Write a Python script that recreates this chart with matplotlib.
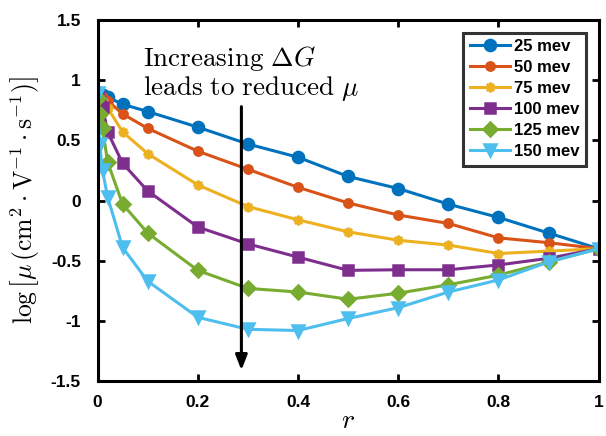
import matplotlib
matplotlib.use("Agg")
import matplotlib.pyplot as plt

plt.rcParams['mathtext.fontset'] = 'cm'
plt.rcParams['axes.unicode_minus'] = False

# r positions
r = [0, 0.004, 0.01, 0.02, 0.05, 0.1, 0.2, 0.3, 0.4, 0.5, 0.6, 0.7, 0.8, 0.9, 1.0]

mu_25 = [0.89, 0.89, 0.88, 0.86, 0.80, 0.74, 0.61, 0.47, 0.36, 0.20, 0.10, -0.03, -0.14, -0.27, -0.40]
mu_50 = [0.88, 0.87, 0.86, 0.83, 0.72, 0.60, 0.41, 0.26, 0.11, -0.02, -0.12, -0.19, -0.31, -0.35, -0.40]
mu_75 = [0.87, 0.85, 0.83, 0.77, 0.57, 0.39, 0.13, -0.05, -0.16, -0.26, -0.33, -0.37, -0.44, -0.42, -0.40]
mu_100 = [0.86, 0.82, 0.78, 0.57, 0.31, 0.08, -0.22, -0.36, -0.47, -0.58, -0.575, -0.575, -0.535, -0.48, -0.40]
mu_125 = [0.85, 0.72, 0.60, 0.32, -0.03, -0.27, -0.58, -0.73, -0.76, -0.82, -0.77, -0.70, -0.62, -0.51, -0.40]
mu_150 = [0.89, 0.47, 0.25, 0.03, -0.39, -0.67, -0.97, -1.07, -1.08, -0.98, -0.89, -0.76, -0.66, -0.51, -0.40]

labels = ['25 mev', '50 mev', '75 mev', '100 mev', '125 mev', '150 mev']
colors = ['#0072BD', '#D95319', '#EDB120', '#7E2F8E', '#77AC30', '#4DBEEE']
markers = ['o', 'o', (8, 2, 0), 's', 'D', 'v']
msizes = [8, 6, 7, 7, 7, 9]

xticks = [0, 0.2, 0.4, 0.6, 0.8, 1]
xticklabels = ['0', '0.2', '0.4', '0.6', '0.8', '1']
yticks = [-1.5, -1, -0.5, 0, 0.5, 1, 1.5]
yticklabels = ['-1.5', '-1', '-0.5', '0', '0.5', '1', '1.5']

fig = plt.figure(figsize=(6.06, 4.36), dpi=100)
ax = fig.add_axes([0.161, 0.126, 0.827, 0.828])

series = [mu_25, mu_50, mu_75, mu_100, mu_125, mu_150]
for ys, lab, c, m, ms in zip(series, labels, colors, markers, msizes):
    ax.plot(r, ys, color=c, marker=m, markersize=ms, linewidth=2.2,
            markeredgewidth=1.8, label=lab)

ax.set_xlim(0, 1)
ax.set_ylim(-1.5, 1.5)
ax.set_xticks(xticks)
ax.set_xticklabels(xticklabels)
ax.set_yticks(yticks)
ax.set_yticklabels(yticklabels)
for lbl in ax.get_xticklabels() + ax.get_yticklabels():
    lbl.set_fontfamily('Liberation Sans')
    lbl.set_fontweight('bold')
    lbl.set_fontsize(12.5)
ax.tick_params(direction='in', length=5, width=2, top=True, right=True)
ax.tick_params(axis='x', pad=10)
ax.tick_params(axis='y', pad=12)
for sp in ax.spines.values():
    sp.set_linewidth(2.2)

ax.set_xlabel(r'$r$', fontsize=20, labelpad=-3)
ax.set_ylabel(r'$\log\left[\mu\,(\mathrm{cm}^2\cdot\mathrm{V}^{-1}\cdot\mathrm{s}^{-1})\right]$',
              fontsize=18.5, labelpad=6)

# annotation arrow
ax.annotate('', xy=(0.287, -1.41), xytext=(0.287, 0.78),
            arrowprops=dict(arrowstyle='-|>,head_length=0.9,head_width=0.35',
                            color='black', lw=2.2, shrinkA=0, shrinkB=0))
ax.text(0.09, 1.12, r'$\mathrm{Increasing}\ \Delta G$', fontsize=19.5, va='baseline')
ax.text(0.09, 0.88, r'$\mathrm{leads\ to\ reduced}\ \mu$', fontsize=19.5, va='baseline')

leg = ax.legend(loc='upper right', fancybox=False, edgecolor='black',
                prop={'family': 'Liberation Sans', 'weight': 'bold', 'size': 12},
                handlelength=2.4, borderpad=0.4, labelspacing=0.36,
                handletextpad=0.25, borderaxespad=0.75)
leg.get_frame().set_linewidth(2.2)

fig.savefig('out.png', dpi=100)
